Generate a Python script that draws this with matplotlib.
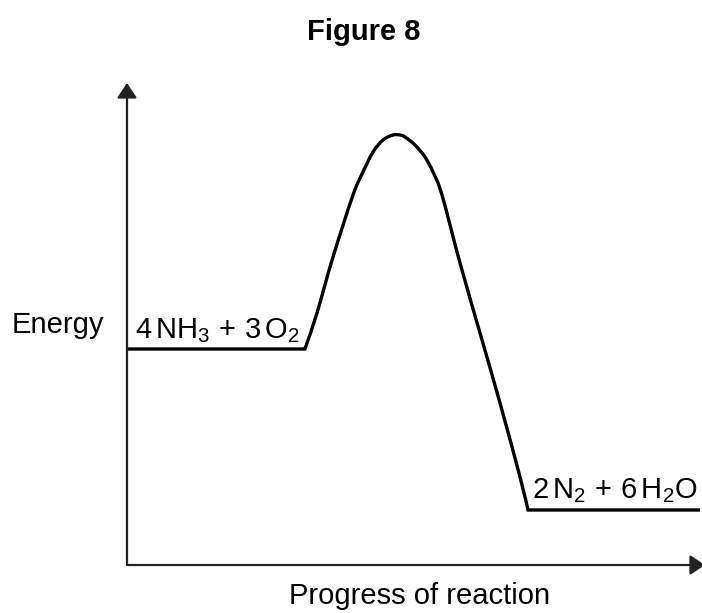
import matplotlib
matplotlib.use("Agg")
import matplotlib.pyplot as plt
from matplotlib.path import Path
from matplotlib.patches import PathPatch

plt.rcParams['font.family'] = ['Liberation Sans', 'DejaVu Sans']
plt.rcParams['mathtext.fontset'] = 'custom'
plt.rcParams['mathtext.rm'] = 'Liberation Sans'
plt.rcParams['mathtext.it'] = 'Liberation Sans'

# Reaction profile (progress, energy in arbitrary units)
progress = [0, 178, 180, 190, 206, 226, 236, 246, 256, 266, 273, 278, 288,
            298, 306, 315, 333, 353, 373, 393, 401, 573]
energy = [216, 216, 222, 252, 308, 370, 393, 413, 425, 430, 430, 428, 420,
          408, 393, 370, 302, 232, 162, 88, 55, 55]

reactant_label = r'$\mathregular{4\,NH_3\,+\,3\,O_2}$'
product_label = r'$\mathregular{2\,N_2\,+\,6\,H_2O}$'
title = 'Figure 8'
ylabel = 'Energy'
xlabel = 'Progress of reaction'

W, H = 702, 613
fig = plt.figure(figsize=(W / 100, H / 100), dpi=100)
ax = fig.add_axes([0, 0, 1, 1])
ax.set_xlim(-127, 575)
ax.set_ylim(-48, 565)
ax.axis('off')

# Smooth path through the read points (sharp corners kept at the ends of
# the flat levels), drawn as Bezier segments by matplotlib.
pts = list(zip(progress, energy))
verts = [pts[0], pts[1]]
codes = [Path.MOVETO, Path.LINETO]
a, b = 1, len(pts) - 2
for i in range(a, b):
    p0 = pts[i - 1] if i - 1 >= a else pts[i]
    p1 = pts[i]
    p2 = pts[i + 1]
    p3 = pts[i + 2] if i + 2 <= b else pts[i + 1]
    c1 = (p1[0] + (p2[0] - p0[0]) / 6, p1[1] + (p2[1] - p0[1]) / 6)
    c2 = (p2[0] - (p3[0] - p1[0]) / 6, p2[1] - (p3[1] - p1[1]) / 6)
    verts += [c1, c2, p2]
    codes += [Path.CURVE4] * 3
verts.append(pts[-1])
codes.append(Path.LINETO)
ax.add_patch(PathPatch(Path(verts, codes), fill=False, edgecolor='black',
                       lw=2.4, joinstyle='miter', capstyle='butt'))

arrow = dict(arrowstyle='-|>,head_length=0.45,head_width=0.3', lw=1.6,
             color='#222222', mutation_scale=20, shrinkA=0, shrinkB=0)
ax.annotate('', xy=(0, 482), xytext=(0, 0), arrowprops=arrow,
            annotation_clip=False)
ax.annotate('', xy=(578, 0), xytext=(0, 0), arrowprops=arrow,
            annotation_clip=False)

ax.text(8, 227, reactant_label, fontsize=21, va='baseline', ha='left')
ax.text(405, 67, product_label, fontsize=21, va='baseline', ha='left')

fig.text(364 / W, 1 - 40 / H, title, fontsize=21, fontweight='bold',
         ha='center', va='baseline')
fig.text(12 / W, 1 - 333 / H, ylabel, fontsize=21, ha='left', va='baseline')
fig.text(420 / W, 1 - 604 / H, xlabel, fontsize=21, ha='center', va='baseline')

fig.savefig('out.png', dpi=100)
